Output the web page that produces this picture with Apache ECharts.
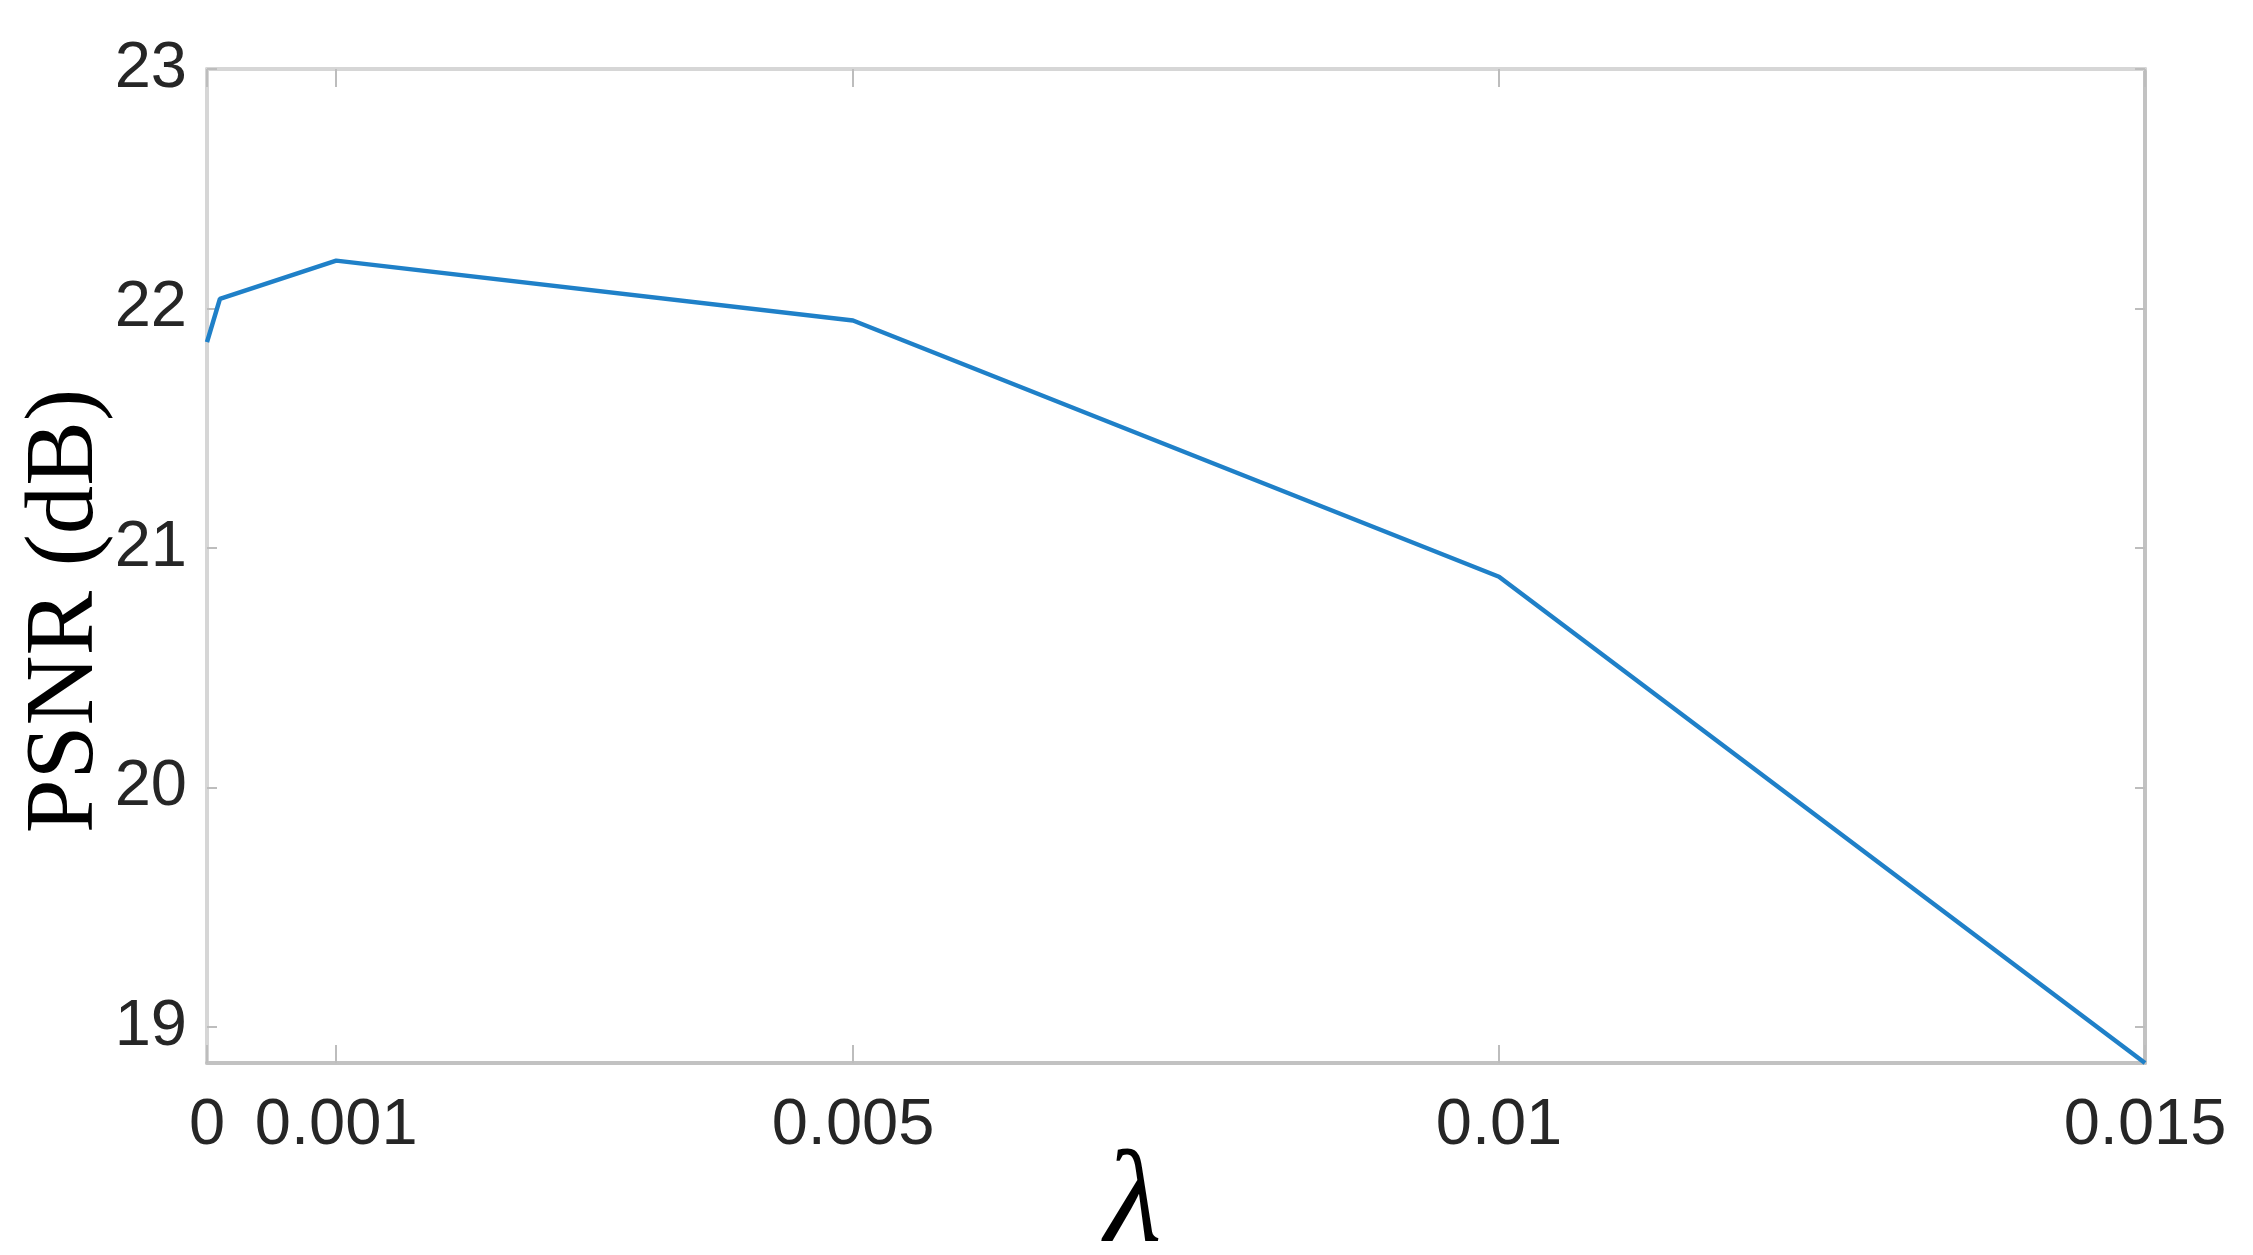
<!DOCTYPE html>
<html>
<head>
<meta charset="utf-8">
<script src="https://cdn.jsdelivr.net/npm/echarts@6/dist/echarts.min.js"></script>
<style>
html,body{margin:0;padding:0;background:#fff;}
#chart{width:2253px;height:1255px;}
</style>
</head>
<body>
<div id="chart"></div>
<script>
// Data
const lambdaValues = [0, 0.0001, 0.001, 0.005, 0.01, 0.015];
const psnrValues = [21.86, 22.04, 22.20, 21.95, 20.88, 18.85];
const xTickValues = [0, 0.001, 0.005, 0.01, 0.015];
const yTickValues = [19, 20, 21, 22, 23];
const xName = 'λ';
const yName = 'PSNR (dB)';

const chart = echarts.init(document.getElementById('chart'));
const labelFont = {fontFamily: 'Liberation Sans', fontSize: 65, color: '#262626'};
const tickStyle = {color: '#bdbdbd', width: 2};

chart.setOption({
  animation: false,
  backgroundColor: '#ffffff',
  grid: {left: 207, top: 69, right: 108, bottom: 192, containLabel: false, outerBoundsMode: 'none'},
  xAxis: [{
    type: 'value', position: 'bottom', min: 0, max: 0.015,
    name: xName, nameLocation: 'middle', nameGap: 77, nameMoveOverlap: false,
    nameTextStyle: {fontFamily: 'Liberation Serif', fontStyle: 'italic', fontSize: 132, color: '#000', padding: [0, 86, 0, 0]},
    axisLine: {onZero: false, lineStyle: {color: '#c2c2c2', width: 4}},
    axisTick: {inside: true, length: 18, lineStyle: tickStyle, customValues: xTickValues},
    axisLabel: Object.assign({margin: 31, customValues: xTickValues, formatter: v => String(+v.toFixed(3))}, labelFont),
    splitLine: {show: false}
  }, {
    type: 'value', position: 'top', min: 0, max: 0.015,
    axisLine: {onZero: false, lineStyle: {color: '#d6d6d6', width: 4}},
    axisTick: {inside: true, length: 18, lineStyle: tickStyle, customValues: xTickValues},
    axisLabel: {show: false},
    splitLine: {show: false}
  }],
  yAxis: [{
    type: 'value', position: 'left', min: 18.85, max: 23,
    name: yName, nameLocation: 'middle', nameGap: 92, nameRotate: 90, nameMoveOverlap: false,
    nameTextStyle: {fontFamily: 'Liberation Serif', fontSize: 97, color: '#000', padding: [0, 90, 0, 0]},
    axisLine: {onZero: false, lineStyle: {color: '#d6d6d6', width: 4}},
    axisTick: {inside: true, length: 10, lineStyle: tickStyle, customValues: yTickValues},
    axisLabel: Object.assign({margin: 20, customValues: yTickValues}, labelFont),
    splitLine: {show: false}
  }, {
    type: 'value', position: 'right', min: 18.85, max: 23,
    axisLine: {onZero: false, lineStyle: {color: '#c2c2c2', width: 4}},
    axisTick: {inside: true, length: 10, lineStyle: tickStyle, customValues: yTickValues},
    axisLabel: {show: false},
    splitLine: {show: false}
  }],
  series: [{
    type: 'line',
    xAxisIndex: 0, yAxisIndex: 0,
    data: lambdaValues.map((x, i) => [x, psnrValues[i]]),
    showSymbol: false,
    lineStyle: {color: '#1f80c8', width: 4.5},
    clip: false
  }]
});
</script>
</body>
</html>
